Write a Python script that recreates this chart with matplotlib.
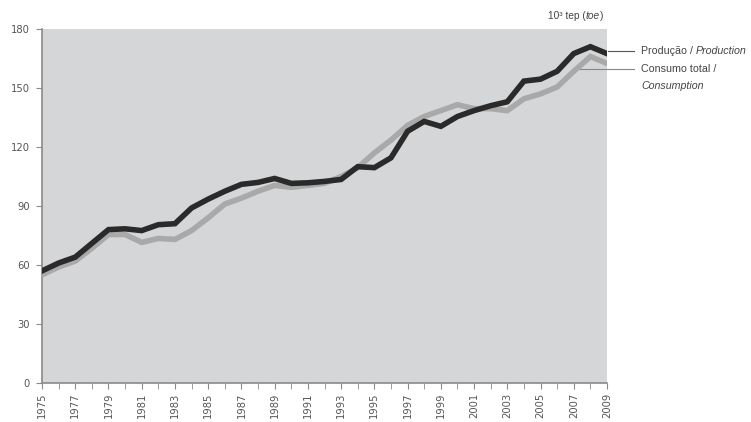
import matplotlib
matplotlib.use("Agg")
import matplotlib.pyplot as plt
import numpy as np

years = list(range(1975, 2010))
production = [57, 61, 64, 71, 78, 78.4, 77.5, 80.5, 81, 89, 93.5, 97.5, 101, 102, 104,
              101.5, 101.8, 102.5, 103.5, 110, 109.5, 114.5, 128, 133, 130.5, 135.5,
              138.5, 141, 143, 153.5, 154.5, 158.5, 167.5, 171, 167.5]
consumption = [55, 59, 62, 68.5, 75.5, 75.5, 71.5, 73.5, 73, 77.5, 84, 91, 94, 97.5, 100.5,
               99.5, 100.5, 101.5, 105, 109.5, 117, 123.5, 131, 135.5, 138.5, 141.5,
               139.5, 139.5, 138.5, 144.5, 147, 150.5, 158.5, 166, 162.5]
y_ticks = [0, 30, 60, 90, 120, 150, 180]
x_labels = list(range(1975, 2010, 2))

fig = plt.figure(figsize=(7.51, 4.22), dpi=100)
ax = fig.add_axes([42 / 751, 39 / 422, 565 / 751, 354 / 422])
ax.set_facecolor("#d5d6d8")

ax.plot(years, consumption, color="#a9a9a9", lw=4.0, solid_joinstyle="miter", zorder=3)
ax.plot(years, production, color="#2a2a2a", lw=4.0, solid_joinstyle="miter", zorder=4)

ax.set_xlim(1975, 2009)
ax.set_ylim(0, 180)
ax.set_yticks(y_ticks)
ax.set_xticks(x_labels)
ax.set_xticks(years, minor=True)
ax.set_xticklabels([str(y) for y in x_labels], rotation=90)

for side in ("top", "right"):
    ax.spines[side].set_visible(False)
for side in ("left", "bottom"):
    ax.spines[side].set_color("#8a8a8a")
    ax.spines[side].set_linewidth(1.2)

ax.tick_params(axis="both", which="both", colors="#8a8a8a", labelcolor="#555555",
               labelsize=8, direction="out")
ax.tick_params(axis="y", length=4, pad=5)
ax.tick_params(axis="x", which="major", length=4, pad=3)
ax.tick_params(axis="x", which="minor", length=4)
for lab in ax.get_xticklabels() + ax.get_yticklabels():
    lab.set_fontfamily("DejaVu Sans")
    lab.set_fontstretch("condensed")

renderer = fig.canvas.get_renderer()


def run_text(x_px, y_px, parts, size):
    """Draw a sequence of (text, style) pieces side by side, in pixel coords."""
    x = x_px
    for s, style in parts:
        t = fig.text(x / 751, 1 - y_px / 422, s, fontsize=size, color="#444444",
                     family="Liberation Sans", style=style, va="center", ha="left")
        bb = t.get_window_extent(renderer=renderer)
        x += bb.width


# Unit label above the plot area
run_text(548, 16, [("10³ tep (", "normal"), ("toe", "italic"), (")", "normal")], 7.3)

# Series labels with leader lines
tr = fig.transFigure
fig.add_artist(plt.Line2D([608 / 751, 634 / 751], [1 - 50.5 / 422, 1 - 50.5 / 422],
                          transform=tr, color="#555555", lw=0.8))
fig.add_artist(plt.Line2D([580 / 751, 634 / 751], [1 - 68.5 / 422, 1 - 68.5 / 422],
                          transform=tr, color="#888888", lw=0.8))
run_text(641, 50.5, [("Produção / ", "normal"), ("Production", "italic")], 7.7)
run_text(641, 69, [("Consumo total /", "normal")], 7.7)
run_text(641, 86, [("Consumption", "italic")], 7.7)

fig.savefig("out.png", dpi=100)
